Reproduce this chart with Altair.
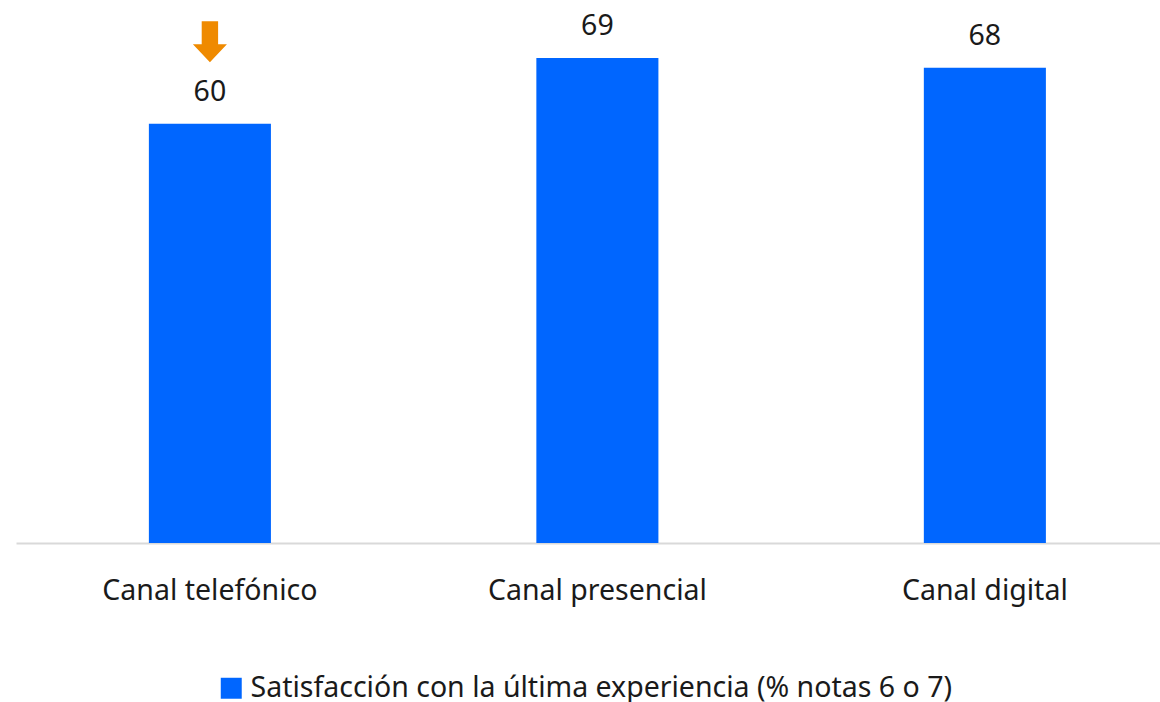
import altair as alt
import pandas as pd

categories = ["Canal telefónico", "Canal presencial", "Canal digital"]
values = [60, 69.4, 68]
series_name = "Satisfacción con la última experiencia (% notas 6 o 7)"
trend = ["down", "", ""]

df = pd.DataFrame({
    "canal": categories,
    "valor": values,
    "serie": [series_name] * len(categories),
    "trend": trend,
})

FONT = "Noto Sans"
FS = 28.5
BLUE = "#0066FF"
ORANGE = "#EF8A00"

x = alt.X(
    "canal:N",
    sort=categories,
    scale=alt.Scale(paddingInner=0.685, paddingOuter=0.3187, align=0.538),
    axis=alt.Axis(
        title=None,
        labelAngle=0,
        ticks=False,
        tickSize=0,
        labelPadding=56,
        labelBaseline="alphabetic",
        labelFont=FONT,
        labelFontSize=FS,
        labelColor="#1a1a1a",
        labelLimit=0,
        domainColor="#D9D9D9",
        domainWidth=2,
        grid=False,
    ),
)
y = alt.Y("valor:Q", scale=alt.Scale(domain=[0, 77.7], nice=False, zero=True), axis=None)

base = alt.Chart(df)

bars = base.mark_bar().encode(
    x=x,
    y=y,
    color=alt.Color(
        "serie:N",
        scale=alt.Scale(range=[BLUE]),
        legend=alt.Legend(
            title=None,
            orient="none",
            legendX=201,
            legendY=674,
            symbolType="square",
            symbolSize=440,
            symbolStrokeWidth=0,
            labelFont=FONT,
            labelFontSize=FS,
            labelColor="#1a1a1a",
            labelLimit=0,
            labelOffset=5,
        ),
    ),
)

labels = base.mark_text(
    dy=-23, baseline="alphabetic", font=FONT, fontSize=FS, color="#1a1a1a"
).encode(x=x, y=y, text=alt.Text("valor:Q", format=".0f"))

arrow_path = "M -0.4 -1 L 0.4 -1 L 0.4 0.12 L 0.83 0.12 L 0 1 L -0.83 0.12 L -0.4 0.12 Z"
arrows = base.transform_filter(alt.datum.trend == "down").mark_point(
    shape=arrow_path, size=1681, filled=True, color=ORANGE, opacity=1, strokeWidth=0, yOffset=-82
).encode(x=x, y=y)

chart = (
    alt.layer(bars, labels, arrows)
    .properties(
        width=1144,
        height=543,
        autosize=alt.AutoSizeParams(type="none"),
        padding={"left": 16, "top": 0, "right": 0, "bottom": 159},
        background="white",
    )
    .configure_view(strokeWidth=0, strokeOpacity=0, fill="white")
)

chart.save("out.html", embed_options={"renderer": "svg", "actions": False})
